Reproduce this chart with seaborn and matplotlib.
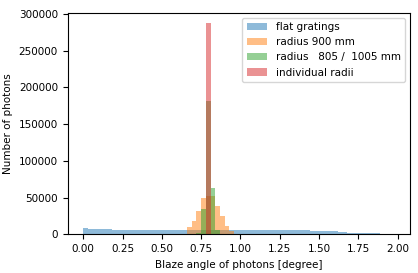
import numpy as np
import pandas as pd
import matplotlib
matplotlib.use("Agg")
import matplotlib.pyplot as plt
import seaborn as sns

# ==========================================
# DATA
# ==========================================

bin_width = 0.03
bin_edges = [round(i * bin_width, 2) for i in range(67)]  # 0.00 ... 1.98

# flat gratings: one count per bin, 0.00 - 1.98
flat_counts = [
    8500, 7800, 7300, 7000, 6800, 6600, 6400, 6300, 6200, 6100, 6000,
    5900, 5800, 5700, 5700, 5600, 5600, 5500, 5500, 5500, 5400, 5400,
    5400, 5400, 5400, 5400, 5400, 5400, 5400, 5400, 5400, 5400,
    5500, 5500, 5500, 5500, 5500, 5500, 5400, 5400, 5400, 5400, 5300,
    5300, 5300, 5200, 5200, 5100, 5000, 5000, 4900, 4800, 4700, 4600,
    3200, 3000,
    2200, 2000, 1900, 1800, 1700, 1600, 1500,
    900, 700, 500,
]

# radius 900 mm
r900_left = [0.66, 0.69, 0.72, 0.75, 0.78, 0.81, 0.84, 0.87, 0.90, 0.93]
r900_counts = [10300, 18400, 32000, 48700, 52000, 51800, 38300, 24800, 11200, 4900]

# radius 805 / 1005 mm
r2_left = [0.72, 0.75, 0.78, 0.81, 0.84]
r2_counts = [2000, 33800, 181800, 63600, 5800]

# individual radii
indiv_left = [0.78]
indiv_counts = [287400]

labels = [
    "flat gratings",
    "radius 900 mm",
    "radius {:5.0f} / {:5.0f} mm".format(805, 1005),
    "individual radii",
]

# ==========================================
# PLOT
# ==========================================

plt.rcParams["font.family"] = ["DejaVu Sans"]
plt.rcParams["font.size"] = 7.5

fig = plt.figure(figsize=(4.18, 2.73), dpi=100)
ax = fig.add_axes([0.162, 0.142, 0.819, 0.812])

series = [
    (bin_edges[:-1], flat_counts),
    (r900_left, r900_counts),
    (r2_left, r2_counts),
    (indiv_left, indiv_counts),
]
colors = ["C0", "C1", "C2", "C3"]

for (left, counts), color, label in zip(series, colors, labels):
    df = pd.DataFrame({
        "angle": np.array(left) + bin_width / 2,
        "photons": counts,
    })
    sns.histplot(
        data=df,
        x="angle",
        weights="photons",
        bins=bin_edges,
        color=color,
        alpha=0.5,
        linewidth=0,
        label=label,
        ax=ax,
    )

ax.set_xlabel("Blaze angle of photons [degree]")
ax.set_ylabel("Number of photons")
ax.set_xticks([0, 0.25, 0.5, 0.75, 1.0, 1.25, 1.5, 1.75, 2.0])
ax.set_xticklabels(["0.00", "0.25", "0.50", "0.75", "1.00", "1.25", "1.50", "1.75", "2.00"])
ax.legend(loc="upper right")

fig.savefig("out.png", dpi=100)
